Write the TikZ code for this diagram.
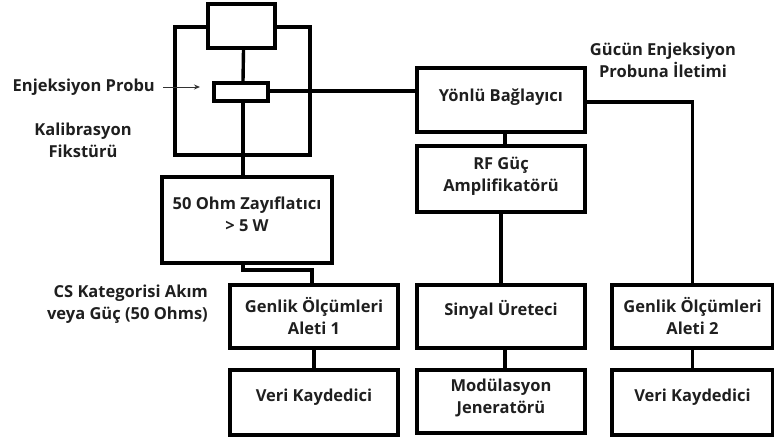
\documentclass[tikz,border=0pt]{standalone}
\usepackage{fontspec}
\setmainfont{Open Sans}
\usetikzlibrary{arrows.meta}
\begin{document}
\begin{tikzpicture}[x=1pt,y=-1pt,
  box/.style={draw=black,line width=3.8pt,rectangle,inner sep=0pt},
  wire/.style={line width=3.4pt,line cap=rect},
  lbl/.style={font=\fontsize{16.5}{22}\selectfont\bfseries,text=black!88,inner sep=0pt,align=center}]
\useasboundingbox (0,0) rectangle (774,439);
% fixture
\node[box,minimum width=135pt,minimum height=128pt] (fix) at (242.5,91) {};
\node[box,fill=white,minimum width=67pt,minimum height=44pt] (topr) at (241.5,26) {};
\node[box,fill=white,minimum width=54pt,minimum height=18pt] (probe) at (241,92) {};
% boxes
\node[box,minimum width=170pt,minimum height=86pt] (att) at (247,220) {};
\node[box,minimum width=168pt,minimum height=63pt] (gen1) at (314,316.5) {};
\node[box,minimum width=168pt,minimum height=65pt] (veri1) at (314,402.5) {};
\node[box,minimum width=168pt,minimum height=64pt] (yon) at (501,100) {};
\node[box,minimum width=168pt,minimum height=66pt] (rf) at (501,179) {};
\node[box,minimum width=168pt,minimum height=63pt] (sin) at (501,316.5) {};
\node[box,minimum width=168pt,minimum height=63pt] (mod) at (501,401.5) {};
\node[box,minimum width=161pt,minimum height=63pt] (gen2) at (692.5,316.5) {};
\node[box,minimum width=161pt,minimum height=65pt] (veri2) at (692.5,402.5) {};
% box texts
\node[lbl] (tatt) at (247,214) {50 Ohm Zayıflatıcı\\> 5 W};
\node[lbl] (tgen1) at (314,316) {Genlik Ölçümleri\\Aleti 1};
\node[lbl] (tveri1) at (314,397) {Veri Kaydedici};
\node[lbl] (tyon) at (501,97) {Yönlü Bağlayıcı};
\node[lbl] (trf) at (501,176.5) {RF Güç\\Amplifikatörü};
\node[lbl] (tsin) at (501,310) {Sinyal Üreteci};
\node[lbl] (tmod) at (501,397.5) {Modülasyon\\Jeneratörü};
\node[lbl] (tgen2) at (692.5,316) {Genlik Ölçümleri\\Aleti 2};
\node[lbl] (tveri2) at (692.5,397) {Veri Kaydedici};
% labels
\node[lbl,anchor=east] (enj) at (155,87) {Enjeksiyon Probu};
\node[lbl] (kal) at (83,140) {Kalibrasyon\\Fikstürü};
\node[lbl,align=right,anchor=east] (cs) at (208,304) {CS Kategorisi Akım\\veya Güç (50 Ohms)};
\node[lbl] (gucun) at (663,60) {Gücün Enjeksiyon\\Probuna İletimi};
% arrow
\coordinate (a1) at (163,87);
\coordinate (a2) at (200,87);
\draw[line width=1pt,-{Stealth[length=6pt,width=5pt]},black!80] (a1) -- (a2);
% wires
\draw[wire] ([xshift=2pt]topr.south) -- ([xshift=2pt]probe.north);
\draw[wire] ([xshift=2pt]probe.south) -- ([xshift=2pt]probe.south |- att.north);
\draw[wire] ([yshift=1pt]probe.east) -- ([yshift=1pt]probe.east -| yon.west);
\draw[wire] ([yshift=-2pt]yon.east) -| (gen2.north);
\draw[wire] ([xshift=4pt]yon.south) -- ([xshift=4pt]rf.north);
\draw[wire] (rf.south) -- (sin.north);
\draw[wire] ([xshift=4pt]sin.south) -- ([xshift=4pt]mod.north);
\coordinate (k1) at (243,270);
\draw[wire] ([xshift=-4pt]att.south) -- (k1) -| ([xshift=-2pt]gen1.north);
\draw[wire] (gen1.south) -- (veri1.north);
\draw[wire] (gen2.south) -- (veri2.north);
\end{tikzpicture}
\end{document}
